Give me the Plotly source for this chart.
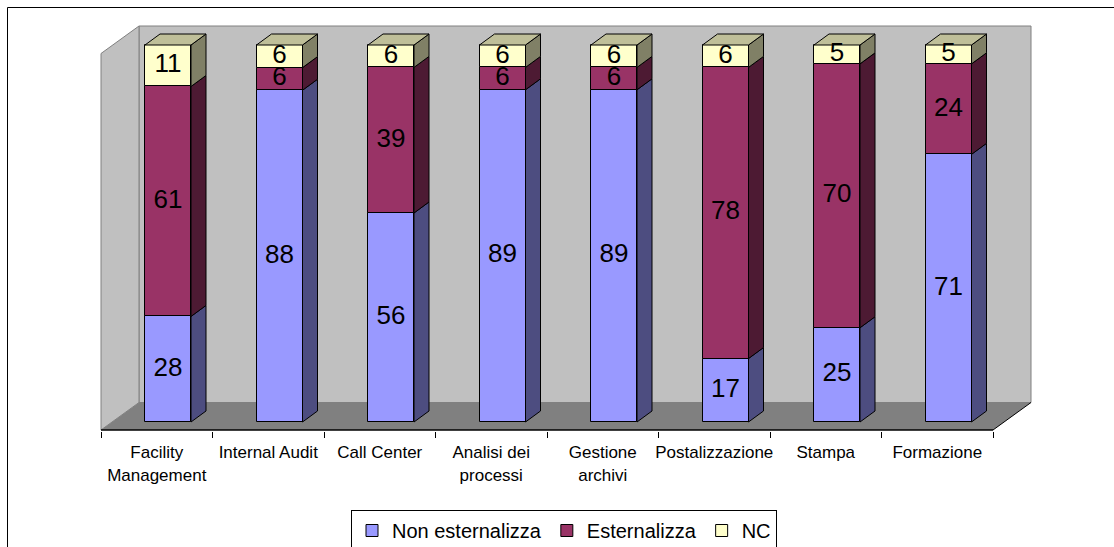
import plotly.graph_objects as go

# Survey answers per service (percent of respondents)
categories = ["Facility<br>Management", "Internal Audit", "Call Center", "Analisi dei<br>processi",
              "Gestione<br>archivi", "Postalizzazione", "Stampa", "Formazione"]
non_esternalizza = [28, 88, 56, 89, 89, 17, 25, 71]
esternalizza = [61, 6, 39, 6, 6, 78, 70, 24]
nc = [11, 6, 6, 6, 6, 6, 5, 5]

series_names = ["Non esternalizza", "Esternalizza", "NC"]
series_values = [non_esternalizza, esternalizza, nc]
front_colors = ["#9999FF", "#993366", "#FFFFCC"]
side_colors = ["#4D4D80", "#4D1A33", "#808066"]
top_color = "#BFBF99"

FONT = "Liberation Sans, Arial, sans-serif"

# pixel scale of the drawing (px per category / px per percent point)
XS, YS = 111.5, 3.77
BAR_OFF, BAR_W = 11.25 / XS, 46 / XS           # bar front face inside its category
BDX, BDY = 15 / XS, 11 / YS                     # bar depth (oblique projection)
FDX, FDY = 38 / XS, 27.5 / YS                   # floor / wall depth
FLOOR_Y = -8 / YS                               # front edge of the floor
WALL_TOP = 396 / YS                             # top of the back wall
N = len(categories)

# 100% stacked: normalise each column to its total
totals = [sum(v[i] for v in series_values) for i in range(N)]
pct = [[v[i] / totals[i] * 100 for i in range(N)] for v in series_values]

fig = go.Figure()

bases = [0.0] * N
seg_bounds = []
for k, name in enumerate(series_names):
    b = bases[:]
    t = [b[i] + pct[k][i] for i in range(N)]
    seg_bounds.append((b, t))
    fig.add_trace(go.Bar(
        name=name, x=[i + BAR_OFF for i in range(N)], y=pct[k], base=b, width=BAR_W,
        marker=dict(color=front_colors[k], line=dict(color="black", width=1)),
        hoverinfo="skip",
    ))
    bases = t

# side faces of every segment
for k in range(len(series_names)):
    b, t = seg_bounds[k]
    xs, ys = [], []
    for i in range(N):
        xr = i + BAR_OFF + BAR_W / 2
        xs += [xr, xr + BDX, xr + BDX, xr, xr, None]
        ys += [b[i], b[i] + BDY, t[i] + BDY, t[i], b[i], None]
    fig.add_trace(go.Scatter(x=xs, y=ys, mode="lines", fill="toself",
                             fillcolor=side_colors[k], line=dict(color="black", width=1),
                             showlegend=False, hoverinfo="skip"))

# top faces of the uppermost segment
b, t = seg_bounds[-1]
xs, ys = [], []
for i in range(N):
    xl = i + BAR_OFF - BAR_W / 2
    xr = i + BAR_OFF + BAR_W / 2
    xs += [xl, xl + BDX, xr + BDX, xr, xl, None]
    ys += [t[i], t[i] + BDY, t[i] + BDY, t[i], t[i], None]
fig.add_trace(go.Scatter(x=xs, y=ys, mode="lines", fill="toself", fillcolor=top_color,
                         line=dict(color="black", width=1), showlegend=False, hoverinfo="skip"))

# value labels centred on each front segment
lx, ly, lt = [], [], []
for k, vals in enumerate(series_values):
    b, t = seg_bounds[k]
    for i in range(N):
        lx.append(i + BAR_OFF)
        ly.append((b[i] + t[i]) / 2)
        lt.append(str(vals[i]))
fig.add_trace(go.Scatter(x=lx, y=ly, text=lt, mode="text", textposition="middle center",
                         textfont=dict(family=FONT, size=26, color="black"),
                         showlegend=False, hoverinfo="skip"))

# walls and floor
x_l, x_r = -0.5, N - 0.5
shapes = [
    dict(type="rect", xref="x", yref="y", x0=x_l + FDX, x1=x_r + FDX, y0=FLOOR_Y + FDY, y1=WALL_TOP,
         fillcolor="#C0C0C0", line=dict(color="#808080", width=1), layer="below"),
    dict(type="path", xref="x", yref="y",
         path=f"M {x_l},{FLOOR_Y} L {x_l},{WALL_TOP - FDY} L {x_l + FDX},{WALL_TOP} L {x_l + FDX},{FLOOR_Y + FDY} Z",
         fillcolor="#C0C0C0", line=dict(color="#808080", width=1), layer="below"),
    dict(type="path", xref="x", yref="y",
         path=f"M {x_l},{FLOOR_Y} L {x_l + FDX},{FLOOR_Y + FDY} L {x_r + FDX},{FLOOR_Y + FDY} L {x_r},{FLOOR_Y} Z",
         fillcolor="#808080", line=dict(width=0), layer="below"),
    dict(type="line", xref="x", yref="y", x0=x_l, x1=x_r, y0=FLOOR_Y, y1=FLOOR_Y,
         line=dict(color="black", width=1.5), layer="below"),
    dict(type="line", xref="x", yref="y", x0=x_r, x1=x_r + FDX, y0=FLOOR_Y, y1=FLOOR_Y + FDY,
         line=dict(color="black", width=1), layer="below"),
]

# plot area in pixels
W, H = 1114, 547
PL, PR, PT, PB = 97, 1036, 22, 431
x_range = [x_l - (101 - PL) / XS, x_l + (PR - 101) / XS]
y_range = [-(PB - 422) / YS, (422 - PT) / YS]
pw, ph = PR - PL, PB - PT

# chart-area frame
shapes.append(dict(type="rect", xref="paper", yref="paper",
                   x0=(7.5 - PL) / pw, x1=1.3, y0=-0.6, y1=(PB - 7.5) / ph,
                   line=dict(color="black", width=1), fillcolor="rgba(0,0,0,0)", layer="below"))

fig.update_layout(
    width=W, height=H,
    margin=dict(l=PL, r=W - PR, t=PT, b=H - PB, pad=0, autoexpand=False),
    paper_bgcolor="white", plot_bgcolor="white",
    barmode="overlay", bargap=0,
    shapes=shapes,
    font=dict(family=FONT, color="black"),
    xaxis=dict(range=x_range, tickmode="array", tickvals=list(range(N)), ticktext=categories,
               ticks="outside", ticklen=6, tickcolor="rgba(0,0,0,0)",
               tickfont=dict(family=FONT, size=17, color="black"),
               showgrid=False, zeroline=False, showline=False, fixedrange=True, automargin=False,
               minor=dict(tickmode="array", tickvals=[i - 0.5 for i in range(N + 1)],
                          ticks="outside", ticklen=6, tickcolor="black", tickwidth=1, showgrid=False)),
    yaxis=dict(range=y_range, showgrid=False, zeroline=False, showline=False,
               showticklabels=False, ticks="", fixedrange=True, automargin=False),
    legend=dict(orientation="h", x=(351 - PL) / pw, xanchor="left", y=(PB - 510) / ph, yanchor="top",
                bordercolor="black", borderwidth=1, bgcolor="white", traceorder="normal",
                font=dict(family=FONT, size=20, color="black")),
    showlegend=True,
)

fig.write_html("out.html")
